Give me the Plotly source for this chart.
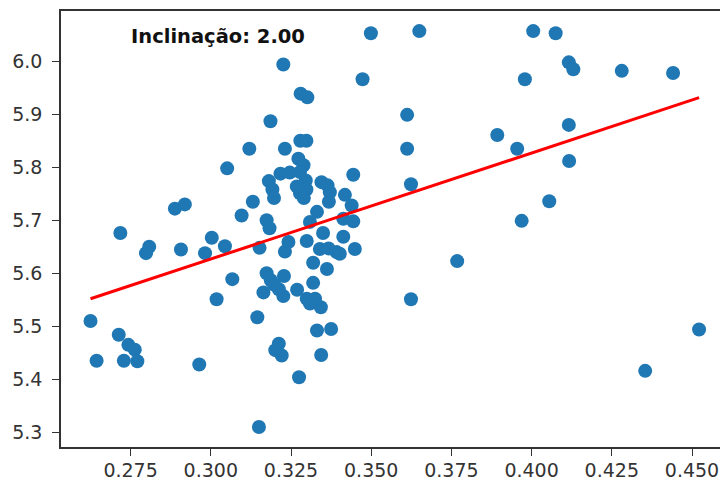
import plotly.graph_objects as go

# Data
x_vals = [
    0.2625, 0.2644, 0.2718, 0.2713, 0.2743, 0.2763, 0.2729, 0.2771, 0.2798, 0.2808,
    0.2888, 0.2919, 0.2907, 0.2964, 0.3003, 0.2982, 0.3044, 0.3051, 0.3067, 0.3018,
    0.3096, 0.3120, 0.3131, 0.3145, 0.3150, 0.3152, 0.3186, 0.3226, 0.3231, 0.3279,
    0.3298, 0.3280, 0.3301, 0.3273, 0.3289, 0.3278, 0.3296, 0.3268, 0.3298, 0.3278,
    0.3290, 0.3217, 0.3246, 0.3181, 0.3192, 0.3197, 0.3345, 0.3364, 0.3371, 0.3368,
    0.3418, 0.3439, 0.3444, 0.3331, 0.3309, 0.3413, 0.3444, 0.3413, 0.3350, 0.3174,
    0.3183, 0.3242, 0.3231, 0.3299, 0.3340, 0.3367, 0.3392, 0.3402, 0.3449, 0.3319,
    0.3362, 0.3174, 0.3187, 0.3228, 0.3197, 0.3212, 0.3164, 0.3226, 0.3269, 0.3319,
    0.3299, 0.3325, 0.3309, 0.3343, 0.3331, 0.3375, 0.3212, 0.3201, 0.3221, 0.3344,
    0.3275, 0.3473, 0.3499, 0.3612, 0.3612, 0.3624, 0.3624, 0.3650, 0.3768, 0.3893,
    0.3955, 0.3969, 0.3979, 0.4005, 0.4055, 0.4075, 0.4116, 0.4130, 0.4116, 0.4117,
    0.4281, 0.4354, 0.4441, 0.4522,
]
y_vals = [
    5.510, 5.435, 5.676, 5.484, 5.465, 5.456, 5.435, 5.434, 5.638, 5.650,
    5.722, 5.730, 5.645, 5.428, 5.667, 5.638, 5.651, 5.798, 5.589, 5.551,
    5.709, 5.835, 5.735, 5.517, 5.310, 5.648, 5.887, 5.994, 5.835, 5.850,
    5.850, 5.939, 5.932, 5.816, 5.804, 5.791, 5.775, 5.764, 5.758, 5.751,
    5.742, 5.788, 5.790, 5.774, 5.758, 5.742, 5.772, 5.766, 5.753, 5.735,
    5.748, 5.728, 5.786, 5.716, 5.697, 5.703, 5.698, 5.669, 5.676, 5.700,
    5.685, 5.659, 5.641, 5.661, 5.646, 5.647, 5.640, 5.637, 5.646, 5.620,
    5.608, 5.600, 5.587, 5.595, 5.579, 5.570, 5.564, 5.557, 5.569, 5.582,
    5.552, 5.552, 5.543, 5.536, 5.492, 5.495, 5.467, 5.455, 5.445, 5.446,
    5.404, 5.966, 6.053, 5.899, 5.835, 5.768, 5.551, 6.057, 5.623, 5.861,
    5.835, 5.699, 5.966, 6.057, 5.736, 6.053, 5.998, 5.985, 5.880, 5.812,
    5.982, 5.416, 5.978, 5.494,
]
slope = 2.00
intercept = 5.027
x_ticks = [0.275, 0.300, 0.325, 0.350, 0.375, 0.400, 0.425, 0.450]
y_ticks = [5.3, 5.4, 5.5, 5.6, 5.7, 5.8, 5.9, 6.0]

x_line = [min(x_vals), max(x_vals)]
y_line = [intercept + slope * v for v in x_line]

fig = go.Figure()
fig.add_trace(go.Scatter(
    x=x_vals, y=y_vals, mode="markers",
    marker=dict(color="#1f77b4", size=14, line=dict(width=0)),
    showlegend=False, hoverinfo="skip",
))
fig.add_trace(go.Scatter(
    x=x_line, y=y_line, mode="lines",
    line=dict(color="red", width=3),
    showlegend=False, hoverinfo="skip",
))

axis_common = dict(
    showgrid=False, zeroline=False, ticks="outside", ticklen=7, tickwidth=1.3,
    tickcolor="#333", showline=True, linecolor="#333", linewidth=1.5,
    tickfont=dict(family="DejaVu Sans", size=19, color="#333"),
    automargin=False,
)
fig.update_xaxes(
    range=[0.2533, 0.2533 + 659 / 3208], tickvals=x_ticks,
    ticktext=[f"{t:.3f}" for t in x_ticks], mirror=True, ticklabelstandoff=-2,
    **axis_common,
)
fig.update_yaxes(
    range=[5.2723, 6.0949], tickvals=y_ticks,
    ticktext=[f"{t:.1f}" for t in y_ticks], ticklabelstandoff=6,
    **axis_common,
)

fig.add_annotation(
    text=f"<b>Inclinação: {slope:.2f}</b>", xref="paper", yref="paper",
    x=0.103, y=0.942, xanchor="left", yanchor="middle", showarrow=False,
    font=dict(family="DejaVu Sans", size=19.5, color="#111"),
)

fig.update_layout(
    width=720, height=481,
    margin=dict(l=61, r=0, t=11, b=34, pad=0),
    plot_bgcolor="white", paper_bgcolor="white",
)
fig.write_html("out.html")
